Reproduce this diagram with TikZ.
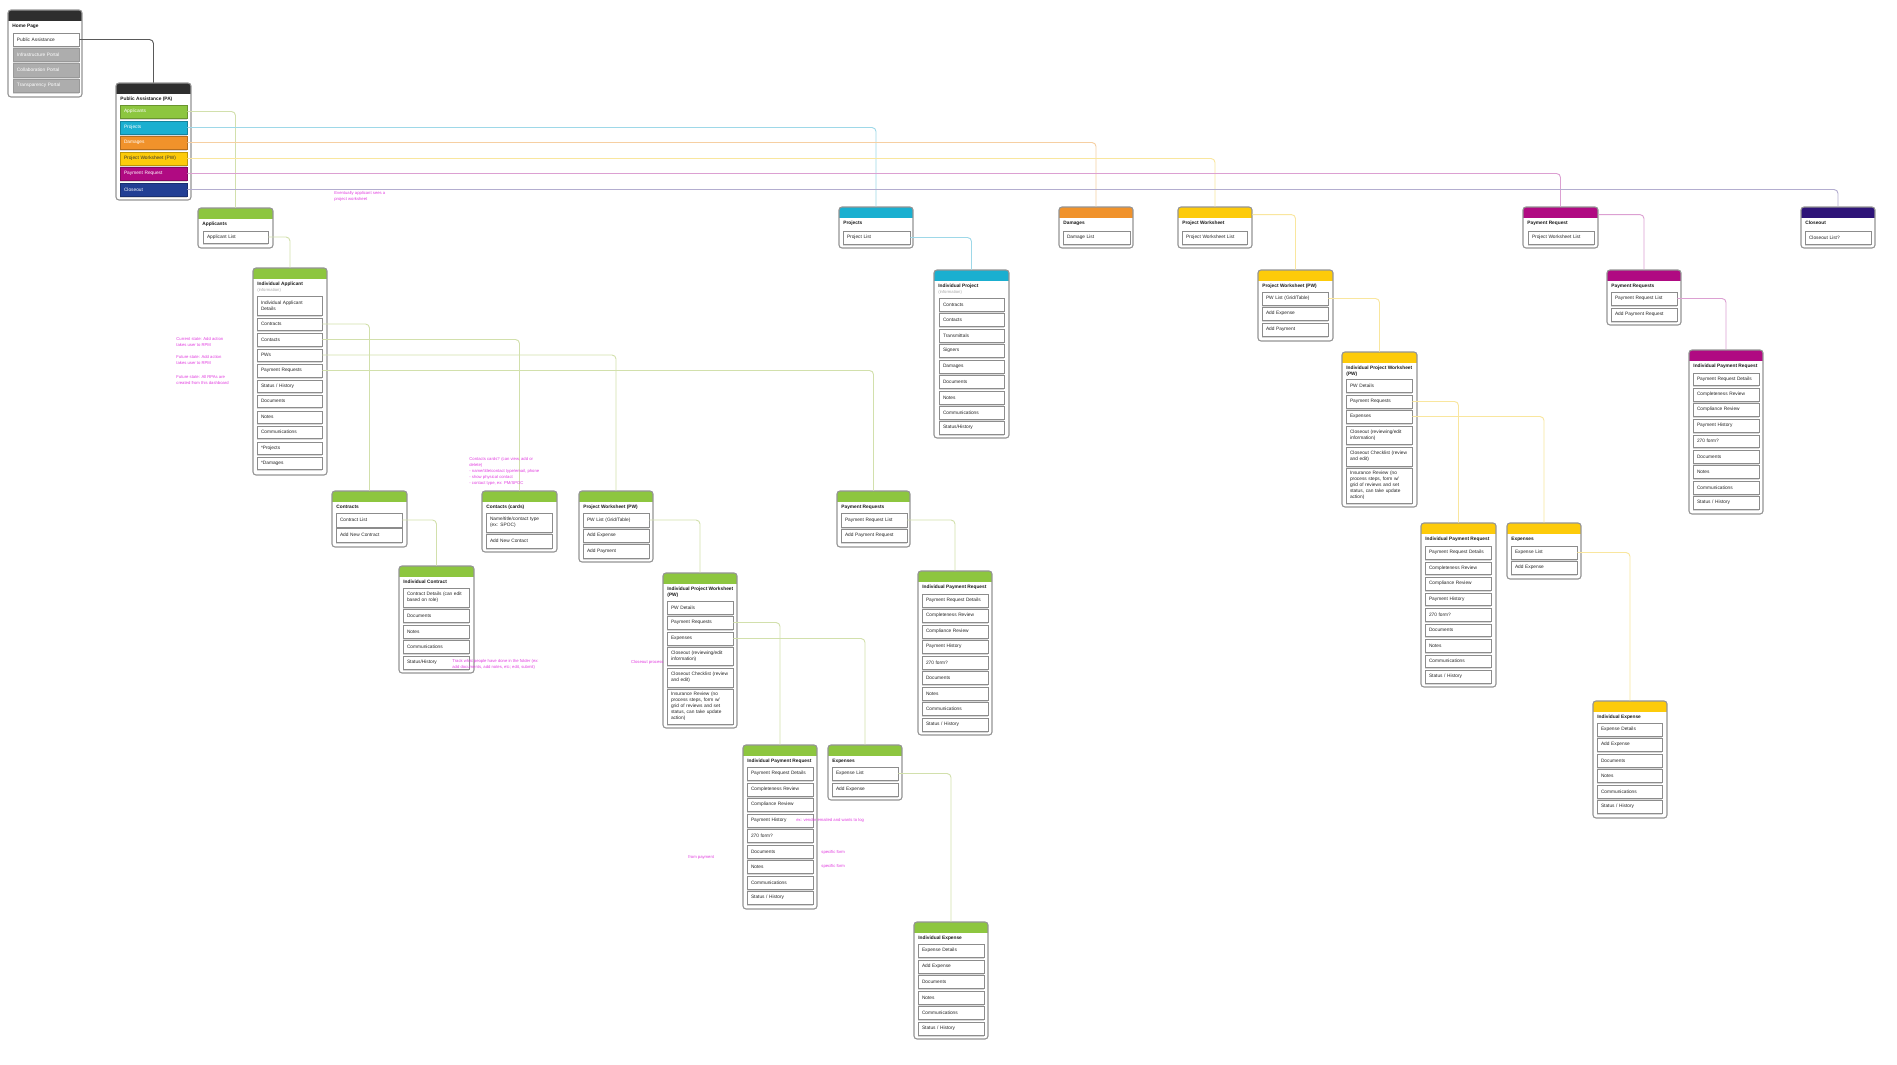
\documentclass[tikz,border=0pt]{standalone}
\usepackage{fontspec}
\setmainfont{Liberation Sans}
\usetikzlibrary{fit}
\definecolor{cdark}{HTML}{2E2E2E}
\definecolor{cgreen}{HTML}{8DC63F}
\definecolor{ccyan}{HTML}{1AAFD0}
\definecolor{corange}{HTML}{F0922B}
\definecolor{cyellow}{HTML}{FDCB0A}
\definecolor{cmag}{HTML}{B00A82}
\definecolor{cnavy}{HTML}{223F94}
\definecolor{cindigo}{HTML}{2E1478}
\definecolor{lgreen}{HTML}{D2E0AC}
\definecolor{lcyan}{HTML}{9ED8E8}
\definecolor{lorange}{HTML}{F6CFA2}
\definecolor{lyellow}{HTML}{F9E69E}
\definecolor{lmag}{HTML}{DCA0D2}
\definecolor{lindigo}{HTML}{B3ADCF}
\definecolor{notemag}{HTML}{E23CE0}
\newcommand\itf{\fontsize{2.4}{2.95}\selectfont}
\newcommand\ttlf{\bfseries\fontsize{2.4}{2.95}\selectfont}
\newcommand\ntf{\fontsize{2.1}{2.95}\selectfont}
\newcommand\subinfo{\\{\color{black!35}\mdseries\fontsize{2.1}{2.6}\selectfont (information)}}
\tikzset{
  cardbody/.style={inner sep=0pt, fill=white, draw=none},
  frame/.style={draw=black!42, line width=0.55pt, rounded corners=1.5pt},
  ttl/.style={font=\ttlf, anchor=north west, inner sep=0pt, align=left, text=black!90},
  itm/.style={draw=black!45, line width=0.3pt, fill=white, inner xsep=2pt, inner ysep=0pt, font=\itf, align=left, text=black!85},
  gitm/.style={itm, fill=black!32, draw=black!40, text=white},
  citm/.style={itm, fill=#1, draw=#1!75!black, text=white},
  note/.style={font=\ntf, text=notemag, anchor=north west, inner sep=0pt, align=left},
  conn/.style={line width=0.45pt, rounded corners=2pt},
}
% card: name, x1, y1, x2, y2, colour, title
\newcommand\card[7]{%
  \node[cardbody, fit={(#2,#3)(#4,#5)}] (#1) {};
  \begin{scope}
    \clip[rounded corners=1.5pt] (#2,#3) rectangle (#4,#5);
    \fill[#6] (#2,#3) rectangle (#4,#3+11);
  \end{scope}
  \draw[frame] (#2,#3) rectangle (#4,#5);
  \node[ttl] (#1-t) at (#2+4,#3+14) {#7};
}
% item: [style] name, x1, y1, x2, y2, text
\newcommand\ci[7][itm]{%
  \pgfmathsetmacro\cwid{(#5-#3)*0.5-4}%
  \pgfmathsetmacro\chei{(#6-#4)*0.5}%
  \fill[black!15] (#3+0.3,#6) rectangle (#5-0.3,#6+1.6);
  \node[#1, text width=\cwid pt, minimum height=\chei pt] (#2) at ({(#3+#5)/2},{(#4+#6)/2}) {#7};
}
\begin{document}
\begin{tikzpicture}[x=0.5pt, y=-0.5pt]
\fill[white] (0,0) rectangle (1897,1065);
\useasboundingbox (0,0) rectangle (1897,1065);

% Home page
\card{hp}{8}{10}{82}{97}{cdark}{Home Page}
\ci{hp1}{13}{33}{79}{46}{Public Assistance}
\ci[gitm]{hp2}{13}{48}{79}{61}{Infrastructure Portal}
\ci[gitm]{hp3}{13}{63}{79}{77}{Collaboration Portal}
\ci[gitm]{hp4}{13}{79}{79}{92}{Transparency Portal}

% Public Assistance
\card{pa}{116}{83}{191}{200}{cdark}{Public Assistance (PA)}
\ci[citm=cgreen]{pa1}{120}{105}{187}{118}{Applicants}
\ci[citm=ccyan]{pa2}{120}{121}{187}{134}{Projects}
\ci[citm=corange]{pa3}{120}{136}{187}{149}{Damages}
\ci[citm=cyellow, text=black!80]{pa4}{120}{152}{187}{165}{Project Worksheet (PW)}
\ci[citm=cmag]{pa5}{120}{167}{187}{180}{Payment Request}
\ci[citm=cnavy]{pa6}{120}{183}{187}{196}{Closeout}

% ---------- Applicants (green) ----------
\card{app}{198}{208}{273}{248}{cgreen}{Applicants}
\ci{app1}{203}{231}{268}{243}{Applicant List}

\card{ia}{253}{268}{327}{475}{cgreen}{Individual Applicant\subinfo}
\ci{ia1}{257}{296}{322}{315}{Individual Applicant\\Details}
\ci{ia2}{257}{318}{322}{330}{Contracts}
\ci{ia3}{257}{333}{322}{346}{Contacts}
\ci{ia4}{257}{349}{322}{361}{PWs}
\ci{ia5}{257}{364}{322}{377}{Payment Requests}
\ci{ia6}{257}{380}{322}{392}{Status / History}
\ci{ia7}{257}{395}{322}{407}{Documents}
\ci{ia8}{257}{411}{322}{423}{Notes}
\ci{ia9}{257}{426}{322}{438}{Communications}
\ci{ia10}{257}{442}{322}{454}{*Projects}
\ci{ia11}{257}{457}{322}{469}{*Damages}

\card{con}{332}{491}{407}{547}{cgreen}{Contracts}
\ci{con1}{336}{513}{402}{527}{Contract List}
\ci{con2}{336}{528}{402}{542}{Add New Contract}

\card{ic}{399}{566}{474}{673}{cgreen}{Individual Contract}
\ci{ic1}{403}{588}{469}{607}{Contract Details (can edit\\based on role)}
\ci{ic2}{403}{609}{469}{622}{Documents}
\ci{ic3}{403}{625}{469}{638}{Notes}
\ci{ic4}{403}{640}{469}{653}{Communications}
\ci{ic5}{403}{656}{469}{669}{Status/History}

\card{cc}{482}{491}{557}{552}{cgreen}{Contacts (cards)}
\ci{cc1}{486}{513}{552}{532}{Name/title/contact type\\(ex: SPOC)}
\ci{cc2}{486}{534}{552}{548}{Add New Contact}

\card{pwg}{579}{491}{653}{562}{cgreen}{Project Worksheet (PW)}
\ci{pwg1}{583}{513}{649}{527}{PW List (Grid/Table)}
\ci{pwg2}{583}{529}{649}{542}{Add Expense}
\ci{pwg3}{583}{544}{649}{558}{Add Payment}

\card{prg}{837}{491}{910}{547}{cgreen}{Payment Requests}
\ci{prg1}{841}{513}{907}{527}{Payment Request List}
\ci{prg2}{841}{529}{907}{542}{Add Payment Request}

\card{ipwg}{663}{573}{737}{728}{cgreen}{Individual Project Worksheet\\(PW)}
\ci{ipwg1}{667}{601}{733}{614}{PW Details}
\ci{ipwg2}{667}{616}{733}{629}{Payment Requests}
\ci{ipwg3}{667}{632}{733}{645}{Expenses}
\ci{ipwg4}{667}{647}{733}{665}{Closeout (reviewing/edit\\information)}
\ci{ipwg5}{667}{668}{733}{687}{Closeout Checklist (review\\and edit)}
\ci{ipwg6}{667}{689}{733}{724}{Insurance Review (no\\process steps, form w/\\grid of reviews and set\\status, can take update\\action)}

\card{iprg}{918}{571}{992}{735}{cgreen}{Individual Payment Request}
\ci{iprg1}{922}{594}{988}{607}{Payment Request Details}
\ci{iprg2}{922}{609}{988}{622}{Completeness Review}
\ci{iprg3}{922}{625}{988}{638}{Compliance Review}
\ci{iprg4}{922}{640}{988}{653}{Payment History}
\ci{iprg5}{922}{656}{988}{669}{270 form?}
\ci{iprg6}{922}{671}{988}{684}{Documents}
\ci{iprg7}{922}{687}{988}{700}{Notes}
\ci{iprg8}{922}{702}{988}{715}{Communications}
\ci{iprg9}{922}{718}{988}{731}{Status / History}

\card{iprh}{743}{745}{817}{909}{cgreen}{Individual Payment Request}
\ci{iprh1}{747}{767}{813}{780}{Payment Request Details}
\ci{iprh2}{747}{783}{813}{796}{Completeness Review}
\ci{iprh3}{747}{798}{813}{811}{Compliance Review}
\ci{iprh4}{747}{814}{813}{827}{Payment History}
\ci{iprh5}{747}{829}{813}{842}{270 form?}
\ci{iprh6}{747}{845}{813}{858}{Documents}
\ci{iprh7}{747}{860}{813}{873}{Notes}
\ci{iprh8}{747}{876}{813}{889}{Communications}
\ci{iprh9}{747}{891}{813}{904}{Status / History}

\card{expg}{828}{745}{902}{800}{cgreen}{Expenses}
\ci{expg1}{832}{767}{898}{780}{Expense List}
\ci{expg2}{832}{783}{898}{796}{Add Expense}

\card{ieg}{914}{922}{988}{1039}{cgreen}{Individual Expense}
\ci{ieg1}{918}{944}{984}{957}{Expense Details}
\ci{ieg2}{918}{960}{984}{973}{Add Expense}
\ci{ieg3}{918}{975}{984}{988}{Documents}
\ci{ieg4}{918}{991}{984}{1004}{Notes}
\ci{ieg5}{918}{1006}{984}{1019}{Communications}
\ci{ieg6}{918}{1022}{984}{1035}{Status / History}

% ---------- Projects (cyan) ----------
\card{prj}{839}{207}{913}{248}{ccyan}{Projects}
\ci{prj1}{843}{231}{910}{244}{Project List}

\card{iprj}{934}{270}{1009}{438}{ccyan}{Individual Project\subinfo}
\ci{iprj1}{939}{298}{1004}{311}{Contracts}
\ci{iprj2}{939}{313}{1004}{326}{Contacts}
\ci{iprj3}{939}{329}{1004}{342}{Transmittals}
\ci{iprj4}{939}{344}{1004}{357}{Signers}
\ci{iprj5}{939}{360}{1004}{373}{Damages}
\ci{iprj6}{939}{375}{1004}{388}{Documents}
\ci{iprj7}{939}{391}{1004}{404}{Notes}
\ci{iprj8}{939}{406}{1004}{419}{Communications}
\ci{iprj9}{939}{421}{1004}{434}{Status/History}

% ---------- Damages (orange) ----------
\card{dmg}{1059}{207}{1133}{248}{corange}{Damages}
\ci{dmg1}{1063}{231}{1130}{244}{Damage List}

% ---------- Project Worksheet (yellow) ----------
\card{pwy}{1178}{207}{1252}{248}{cyellow}{Project Worksheet}
\ci{pwy1}{1182}{231}{1247}{244}{Project Worksheet List}

\card{pwz}{1258}{270}{1333}{341}{cyellow}{Project Worksheet (PW)}
\ci{pwz1}{1262}{292}{1328}{305}{PW List (Grid/Table)}
\ci{pwz2}{1262}{307}{1328}{320}{Add Expense}
\ci{pwz3}{1262}{323}{1328}{336}{Add Payment}

\card{ipwy}{1342}{352}{1417}{507}{cyellow}{Individual Project Worksheet\\(PW)}
\ci{ipwy1}{1346}{379}{1412}{392}{PW Details}
\ci{ipwy2}{1346}{395}{1412}{408}{Payment Requests}
\ci{ipwy3}{1346}{410}{1412}{423}{Expenses}
\ci{ipwy4}{1346}{426}{1412}{444}{Closeout (reviewing/edit\\information)}
\ci{ipwy5}{1346}{447}{1412}{466}{Closeout Checklist (review\\and edit)}
\ci{ipwy6}{1346}{468}{1412}{503}{Insurance Review (no\\process steps, form w/\\grid of reviews and set\\status, can take update\\action)}

\card{ipry}{1421}{523}{1496}{687}{cyellow}{Individual Payment Request}
\ci{ipry1}{1425}{546}{1491}{559}{Payment Request Details}
\ci{ipry2}{1425}{562}{1491}{574}{Completeness Review}
\ci{ipry3}{1425}{577}{1491}{590}{Compliance Review}
\ci{ipry4}{1425}{593}{1491}{605}{Payment History}
\ci{ipry5}{1425}{608}{1491}{621}{270 form?}
\ci{ipry6}{1425}{624}{1491}{636}{Documents}
\ci{ipry7}{1425}{639}{1491}{652}{Notes}
\ci{ipry8}{1425}{655}{1491}{667}{Communications}
\ci{ipry9}{1425}{670}{1491}{683}{Status / History}

\card{expy}{1507}{523}{1581}{579}{cyellow}{Expenses}
\ci{expy1}{1511}{546}{1577}{559}{Expense List}
\ci{expy2}{1511}{561}{1577}{574}{Add Expense}

\card{iey}{1593}{701}{1667}{818}{cyellow}{Individual Expense}
\ci{iey1}{1597}{723}{1662}{736}{Expense Details}
\ci{iey2}{1597}{738}{1662}{751}{Add Expense}
\ci{iey3}{1597}{754}{1662}{767}{Documents}
\ci{iey4}{1597}{769}{1662}{782}{Notes}
\ci{iey5}{1597}{785}{1662}{798}{Communications}
\ci{iey6}{1597}{800}{1662}{813}{Status / History}

% ---------- Payment Request (magenta) ----------
\card{prm}{1523}{207}{1598}{248}{cmag}{Payment Request}
\ci{prm1}{1528}{231}{1594}{244}{Project Worksheet List}

\card{prn}{1607}{270}{1681}{325}{cmag}{Payment Requests}
\ci{prn1}{1611}{292}{1677}{305}{Payment Request List}
\ci{prn2}{1611}{308}{1677}{321}{Add Payment Request}

\card{iprm}{1689}{350}{1763}{514}{cmag}{Individual Payment Request}
\ci{iprm1}{1693}{373}{1759}{385}{Payment Request Details}
\ci{iprm2}{1693}{388}{1759}{401}{Completeness Review}
\ci{iprm3}{1693}{403}{1759}{416}{Compliance Review}
\ci{iprm4}{1693}{419}{1759}{432}{Payment History}
\ci{iprm5}{1693}{435}{1759}{447}{270 form?}
\ci{iprm6}{1693}{450}{1759}{463}{Documents}
\ci{iprm7}{1693}{465}{1759}{478}{Notes}
\ci{iprm8}{1693}{481}{1759}{494}{Communications}
\ci{iprm9}{1693}{496}{1759}{509}{Status / History}

% ---------- Closeout ----------
\card{clo}{1801}{207}{1875}{248}{cindigo}{Closeout}
\ci{clo1}{1805}{231}{1871}{244}{Closeout List?}

% ---------- connectors ----------
\draw[conn, black!65] (hp1.east) -| (pa.north);
\draw[conn, lgreen] (pa1.east) -| (app.north);
\draw[conn, lcyan] (pa2.east) -| (prj.north);
\draw[conn, lorange] (pa3.east) -| (dmg.north);
\draw[conn, lyellow] (pa4.east) -| (pwy.north);
\draw[conn, lmag] (pa5.east) -| (prm.north);
\draw[conn, lindigo] (pa6.east) -| (clo.north);

\draw[conn, lgreen] (app1.east) -| (ia.north);
\draw[conn, lgreen] (ia2.east) -| (con.north);
\draw[conn, lgreen] (ia3.east) -| (cc.north);
\draw[conn, lgreen] (ia4.east) -| (pwg.north);
\draw[conn, lgreen] (ia5.east) -| (prg.north);
\draw[conn, lgreen] (con1.east) -| (ic.north);
\draw[conn, lgreen] (pwg1.east) -| (ipwg.north);
\draw[conn, lgreen] (prg1.east) -| (iprg.north);
\draw[conn, lgreen] (ipwg2.east) -| (iprh.north);
\draw[conn, lgreen] (ipwg3.east) -| (expg.north);
\draw[conn, lgreen] (expg1.east) -| (ieg.north);

\draw[conn, lcyan] (prj1.east) -| (iprj.north);

\draw[conn, lyellow] ([yshift=-4pt]pwy.north east) -| (pwz.north);
\draw[conn, lyellow] (pwz1.east) -| (ipwy.north);
\draw[conn, lyellow] (ipwy2.east) -| (ipry.north);
\draw[conn, lyellow] (ipwy3.east) -| (expy.north);
\draw[conn, lyellow] (expy1.east) -| (iey.north);

\draw[conn, lmag] ([yshift=-4pt]prm.north east) -| (prn.north);
\draw[conn, lmag] (prn1.east) -| (iprm.north);

% ---------- notes ----------
\node[note] (n1) at (334,191) {Eventually applicant sees a\\project worksheet};
\node[note] (n2) at (176,337) {Current state: Add action\\takes user to RPM};
\node[note] (n3) at (176,355) {Future state: Add action\\takes user to RPM};
\node[note] (n4) at (176,375) {Future state: All RPAs are\\created from this dashboard};
\node[note] (n5) at (469,457) {Contacts cards? (can view, add or\\delete)\\- name/title/contact type/email, phone\\- show physical contact\\- contact type, ex: PM/SPOC};
\node[note] (n6) at (452,659) {Track what people have done in the folder (ex:\\add documents, add notes, etc; edit, submit)};
\node[note, anchor=east] (n7) at (664,662) {Closeout process};
\node[note] (n8) at (796,818) {ex: vendor emailed and wants to log};
\node[note] (n9) at (821,850) {specific form};
\node[note] (n10) at (821,864) {specific form};
\node[note] (n11) at (688,855) {from payment};
\end{tikzpicture}
\end{document}
